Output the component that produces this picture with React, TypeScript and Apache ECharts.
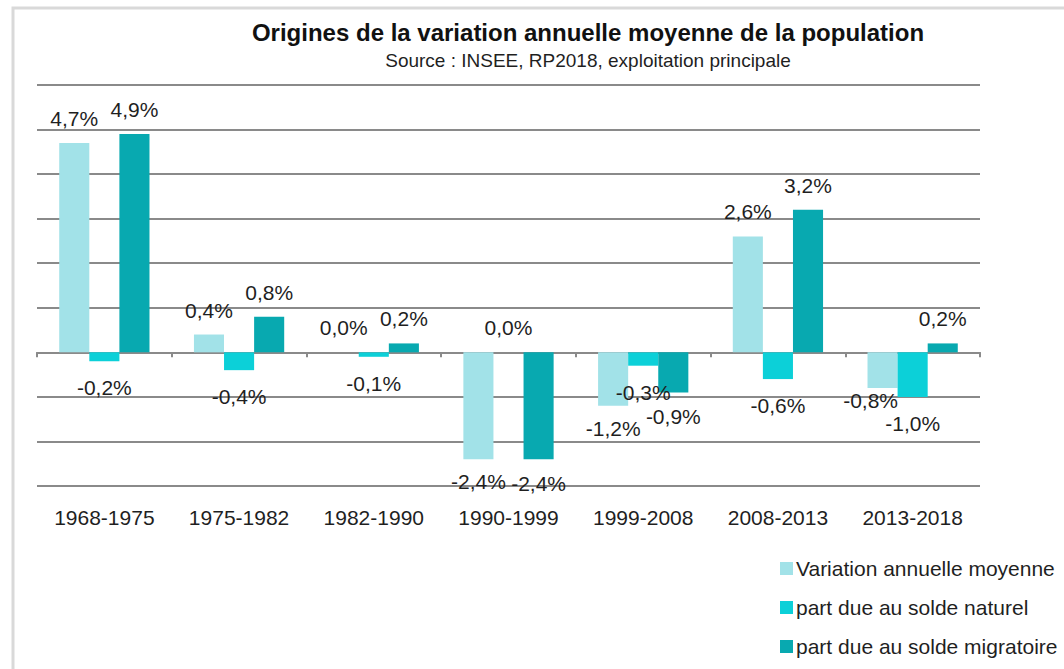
import React, { useEffect, useRef } from "react";
import * as echarts from "echarts";

const categories = ["1968-1975", "1975-1982", "1982-1990", "1990-1999", "1999-2008", "2008-2013", "2013-2018"];
const variation = [4.7, 0.4, 0.0, -2.4, -1.2, 2.6, -0.8];
const naturel = [-0.2, -0.4, -0.1, 0.0, -0.3, -0.6, -1.0];
const migratoire = [4.9, 0.8, 0.2, -2.4, -0.9, 3.2, 0.2];
const seriesNames = ["Variation annuelle moyenne", "part due au solde naturel", "part due au solde migratoire"];
const colors = ["#A2E2E8", "#0CD0D8", "#08A9B0"];

const FONT = "'Liberation Sans', Arial, sans-serif";

function fmt(v: number) {
  return v.toFixed(1).replace(".", ",") + "%";
}

function makeSeries(name: string, data: number[], color: string, negDist: number, other?: number[]) {
  return {
    name,
    type: "bar",
    xAxisIndex: 0,
    barGap: "0%",
    barCategoryGap: "33%",
    itemStyle: { color },
    data: data.map((v, i) => {
      const crowded = other && v < 0 && other[i] < v;
      return {
        value: v,
        label: {
          show: true,
          position: v >= 0 ? "top" : "bottom",
          distance: v >= 0 ? 14 : crowded ? 8 : negDist,
          offset: crowded ? [-12, -6] : [0, 0],
          formatter: () => fmt(v),
          fontFamily: FONT,
          fontSize: 21,
          color: "#1f1f1f",
        },
      };
    }),
  };
}

export default function App() {
  const ref = useRef<HTMLDivElement>(null);
  useEffect(() => {
    if (!ref.current) return;
    const chart = echarts.init(ref.current, undefined, { renderer: "svg" });
    chart.setOption({
      animation: false,
      backgroundColor: "#ffffff",
      title: {
        text: "Origines de la variation annuelle moyenne de la population",
        subtext: "Source : INSEE, RP2018, exploitation principale",
        left: 583,
        textAlign: "center",
        top: 15,
        itemGap: 7,
        textStyle: { fontFamily: FONT, fontWeight: "bold", fontSize: 24, color: "#111" },
        subtextStyle: { fontFamily: FONT, fontSize: 19, color: "#1f1f1f" },
      },
      legend: {
        orient: "vertical",
        left: 775,
        top: 553,
        itemGap: 18,
        itemWidth: 13,
        itemHeight: 13,
        icon: "rect",
        data: seriesNames,
        textStyle: { fontFamily: FONT, fontSize: 21, color: "#1f1f1f", padding: [0, 0, 0, -2] },
      },
      grid: { left: 37, right: 84, top: 85, bottom: 183, containLabel: false },
      xAxis: [
        {
          type: "category",
          data: categories,
          position: "bottom",
          axisLine: { show: false, onZero: false },
          axisTick: { show: false },
          axisLabel: { interval: 0, margin: 21, fontFamily: FONT, fontSize: 21, color: "#1f1f1f" },
        },
        {
          type: "category",
          data: categories,
          position: "bottom",
          axisLine: { show: true, onZero: true, lineStyle: { color: "#8a8a8a", width: 2 } },
          axisTick: { show: true, interval: 0, length: 5, lineStyle: { color: "#8a8a8a", width: 2 } },
          axisLabel: { show: false },
        },
      ],
      yAxis: {
        type: "value",
        min: -3,
        max: 6,
        interval: 1,
        axisLabel: { show: false },
        axisLine: { show: false },
        axisTick: { show: false },
        splitLine: { show: true, lineStyle: { color: "#8a8a8a", width: 2 } },
      },
      series: [
        makeSeries(seriesNames[0], variation, colors[0], 12, naturel),
        makeSeries(seriesNames[1], naturel, colors[1], 16),
        makeSeries(seriesNames[2], migratoire, colors[2], 14),
      ],
      graphic: [
        {
          type: "rect",
          shape: { x: 13, y: 8, width: 1200, height: 800 },
          style: { fill: "none", stroke: "#d9d9d9", lineWidth: 3 },
          silent: true,
          z: 100,
        },
      ],
    });
    return () => chart.dispose();
  }, []);
  return (
    <div
      ref={ref}
      style={{ position: "absolute", left: 0, top: 0, width: 1064, height: 669 }}
    />
  );
}
